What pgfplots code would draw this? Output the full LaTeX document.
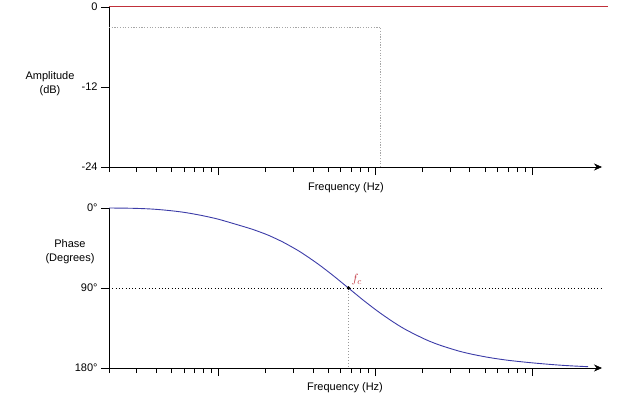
\documentclass[border=0pt]{standalone}
\usepackage{pgfplots}
\pgfplotsset{compat=1.18}
\usepackage{fontspec}
\setmainfont{Liberation Sans}
\usetikzlibrary{arrows.meta}
\definecolor{ampred}{HTML}{C0303A}
\definecolor{phblue}{HTML}{3C3CA8}
\begin{document}
\begin{tikzpicture}[x=1pt,y=1pt]
\path[use as bounding box] (0,0) rectangle (620,-398);
\begin{axis}[at={(109pt,-167pt)}, anchor=south west,
    scale only axis, width=493pt, height=160pt,
    xmode=log, xmin=2, xmax=2790,
    axis x line=bottom, axis y line=left,
    x axis line style={-{Stealth[length=8pt,width=7pt]}, line width=0.7pt},
    y axis line style={-, line width=0.7pt},
    tick align=outside,
    major tick length=8pt, minor tick length=5pt,
    tick style={black, line width=0.6pt},
    xticklabels={},
    ticklabel style={font=\fontsize{11}{12}\selectfont},
    clip=false,
  ymin=-24, ymax=0, ytick={0,-12,-24}, yticklabels={0,-12,-24}]
\addplot[gray!70, dash pattern=on 1.2pt off 1.5pt, line width=0.6pt] coordinates {(2,-3) (107.7,-3) (107.7,-24)};
\addplot[color=ampred, line width=1pt] coordinates {(2,0) (3050,0)};
\end{axis}
\begin{axis}[at={(109pt,-368pt)}, anchor=south west,
    scale only axis, width=493pt, height=160pt,
    xmode=log, xmin=2, xmax=2790,
    axis x line=bottom, axis y line=left,
    x axis line style={-{Stealth[length=8pt,width=7pt]}, line width=0.7pt},
    y axis line style={-, line width=0.7pt},
    tick align=outside,
    major tick length=8pt, minor tick length=5pt,
    tick style={black, line width=0.6pt},
    xticklabels={},
    ticklabel style={font=\fontsize{11}{12}\selectfont},
    clip=false,
  y dir=reverse, ymin=0, ymax=180, ytick={0,90,180}, yticklabels={0°,90°,180°}]
\addplot[black, dash pattern=on 0.8pt off 2.5pt, line width=0.6pt] coordinates {(2,90) (2790,90)};
\addplot[gray!80, dash pattern=on 1pt off 2pt, line width=0.5pt] coordinates {(67.3,90) (67.3,180)};
\addplot[color=phblue, line width=0.9pt, smooth] coordinates {(2.0,0) (2.8,0.3) (3.69,1.1) (4.7,2.6) (5.98,4.8) (7.7,8.2) (9.86,12.4) (12.6,17.8) (16,23.3) (18.5,27.2) (21,31.0) (25.9,38.6) (33,49.1) (42.7,62.5) (53,75.1) (67.3,90) (85,104.6) (107,118.0) (135,130.1) (160,137.8) (210,148.1) (259,154.4) (340,160.9) (421,164.8) (540,168.4) (693,171.2) (900,173.4) (1125,175.0) (1450,176.6) (1824,177.7) (2275,178.5)};
\addplot[only marks, mark=*, mark size=1.6pt, black] coordinates {(67.3,90)} node[anchor=south west, color=ampred, inner sep=0pt, xshift=3pt, yshift=3pt, font=\fontsize{13}{14}\selectfont] {$f_c$};
\end{axis}
\node[align=center, font=\fontsize{11}{14}\selectfont] at (50,-84) {Amplitude\\(dB)};
\node[align=center, font=\fontsize{11}{14}\selectfont] at (70,-252) {Phase\\(Degrees)};
\node[font=\fontsize{11}{14}\selectfont] at (346,-188) {Frequency (Hz)};
\node[font=\fontsize{11}{14}\selectfont] at (345,-388) {Frequency (Hz)};
\end{tikzpicture}
\end{document}
